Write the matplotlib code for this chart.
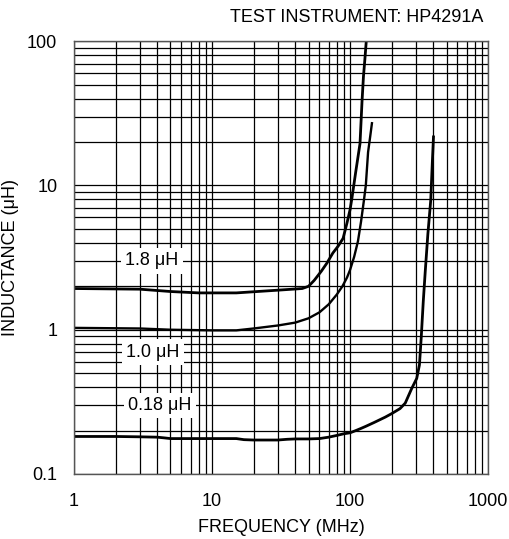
import matplotlib
matplotlib.use("Agg")
import matplotlib.pyplot as plt
from matplotlib.ticker import LogLocator, NullFormatter, FixedLocator, FixedFormatter

plt.rcParams["font.family"] = ["Liberation Sans", "DejaVu Sans"]

# inductance vs frequency
freq_18 = [1, 3, 5, 8, 15, 30, 45, 50, 55, 62, 68, 75, 82, 89, 95, 100, 103, 110, 118, 122, 125, 128, 131]
ind_18 = [1.93, 1.91, 1.84, 1.80, 1.80, 1.88, 1.93, 2.0, 2.2, 2.55, 2.9, 3.4, 3.8, 4.3, 5.5, 6.8, 8.1, 12.5, 19.5, 38, 57, 75, 100]

freq_10 = [1, 3, 5, 10, 15, 20, 30, 40, 50, 60, 70, 80, 88, 95, 100, 107, 114, 120, 126, 130, 135, 140, 144]
ind_10 = [1.03, 1.02, 1.0, 0.99, 0.99, 1.02, 1.07, 1.12, 1.2, 1.32, 1.5, 1.75, 2.0, 2.3, 2.6, 3.2, 4.1, 5.6, 7.9, 10, 17, 22, 27]

freq_018 = [1, 2, 3, 4, 4.5, 5, 7, 10, 15, 17, 20, 30, 35, 40, 50, 60, 70, 80, 90, 100, 110, 120, 130,
            150, 180, 200, 230, 251, 279, 304, 318, 328, 339, 350, 366, 384, 395, 402]
ind_018 = [0.182, 0.182, 0.181, 0.18, 0.178, 0.176, 0.176, 0.176, 0.176, 0.173, 0.172, 0.172, 0.174,
           0.175, 0.175, 0.176, 0.18, 0.185, 0.19, 0.193, 0.2, 0.207, 0.214,
           0.228, 0.248, 0.262, 0.284, 0.31, 0.39, 0.46, 0.57, 0.9, 1.57, 2.5, 4.6, 7.9, 15, 21.7]

labels = ["1.8 μH", "1.0 μH", "0.18 μH"]
label_pos = [(3.67, 3.0), (3.73, 0.7), (4.2, 0.3)]

x_ticks = [1, 10, 100, 1000]
y_ticks = [0.1, 1, 10, 100]

fig = plt.figure(figsize=(5.1, 5.39), dpi=100)
ax = fig.add_axes([0.1451, 0.1206, 0.812, 0.803])

ax.set_xscale("log")
ax.set_yscale("log")
ax.set_xlim(1, 1000)
ax.set_ylim(0.1, 100)

ax.xaxis.set_major_locator(FixedLocator(x_ticks))
ax.xaxis.set_major_formatter(FixedFormatter([str(v) for v in x_ticks]))
ax.yaxis.set_major_locator(FixedLocator(y_ticks))
ax.yaxis.set_major_formatter(FixedFormatter(["0.1", "1", "10", "100"]))
ax.xaxis.set_minor_locator(LogLocator(base=10, subs=range(2, 10)))
ax.yaxis.set_minor_locator(LogLocator(base=10, subs=range(2, 10)))
ax.xaxis.set_minor_formatter(NullFormatter())
ax.yaxis.set_minor_formatter(NullFormatter())

ax.grid(True, which="both", color="black", linewidth=0.9)
ax.set_axisbelow(True)
ax.tick_params(which="both", length=0, labelsize=13)
ax.tick_params(axis="x", pad=14)
ax.tick_params(axis="y", pad=12)
for s in ax.spines.values():
    s.set_color("#555555")
    s.set_linewidth(1)

ax.plot(freq_18, ind_18, color="black", linewidth=2.0)
ax.plot(freq_10, ind_10, color="black", linewidth=1.7)
ax.plot(freq_018, ind_018, color="black", linewidth=2.0)

for txt, (fx, fy) in zip(labels, label_pos):
    ax.text(fx, fy, txt, ha="center", va="center", fontsize=13,
            bbox=dict(facecolor="white", edgecolor="none", pad=3))

ax.set_xlabel("FREQUENCY (MHz)", fontsize=13, labelpad=6)
ax.set_ylabel("INDUCTANCE (μH)", fontsize=13)
ax.yaxis.set_label_coords(-0.133, 0.5)

fig.text(0.947, 0.967, "TEST INSTRUMENT: HP4291A", ha="right", va="center", fontsize=13)

fig.savefig("out.png", dpi=100)
